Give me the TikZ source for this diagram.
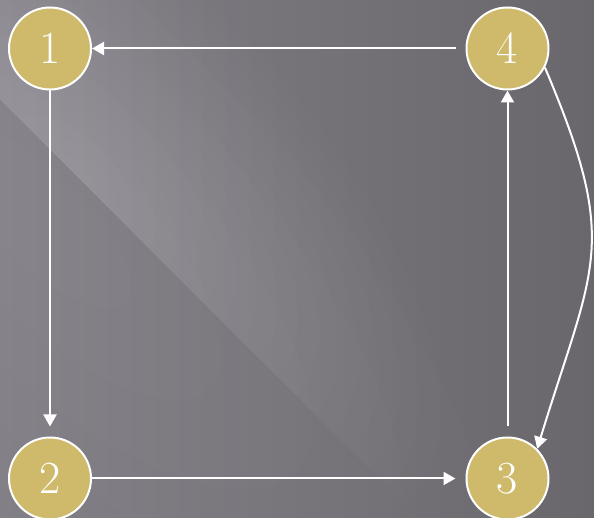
\documentclass[tikz,border=0pt]{standalone}
\usepackage{fontspec}
\usetikzlibrary{arrows.meta}
\definecolor{nodegold}{HTML}{CEBA6A}
\definecolor{bgleft}{HTML}{828086}
\definecolor{bgright}{HTML}{69666C}
\tikzset{
  vert/.style={circle, draw=white, line width=2pt, fill=nodegold, minimum size=82pt, inner sep=0pt,
    text=white, font=\fontsize{46}{46}\selectfont},
  link/.style={draw=white, line width=2pt, -{Triangle[length=12pt,width=13pt]}},
  glow/.style={fill=white, fill opacity=0.013}
}
\begin{document}
\begin{tikzpicture}[x=1pt,y=1pt]
\useasboundingbox (0,0) rectangle (594,518);
% background
\shade[left color=bgleft, right color=bgright] (0,0) rectangle (594,518);
\begin{scope}
\clip (0,0) rectangle (594,518);
\foreach \k in {1,...,5} {
  \fill[glow, rotate around={-45:(40,300)}] (40,300) ellipse [x radius={120*\k}, y radius={45*\k}];
}
\end{scope}
\begin{scope}
\clip (0,418) -- (418,0) -- (594,0) -- (594,518) -- (0,518) -- cycle;
\foreach \k in {1,...,18} {
  \fill[glow, rotate around={-45:(75,343)}] (75,343) ellipse [x radius={26*\k}, y radius={12*\k}];
}
\end{scope}
% nodes
\node[vert] (n1) at (50,469.5) {1};
\node[vert] (n4) at (507.5,469.5) {4};
\node[vert] (n2) at (50,39.5) {2};
\node[vert] (n3) at (507.5,39.5) {3};
% connectors
\draw[link, shorten <=10pt] (n4) -- (n1);
\draw[link, shorten >=10pt] (n1) -- (n2);
\draw[link, shorten >=10pt] (n2) -- (n3);
\draw[link, shorten <=10pt] (n3) -- (n4);
\draw[link] (n4.-27) to[out=-67, in=73, looseness=1.3] (n3.45);
\end{tikzpicture}
\end{document}
